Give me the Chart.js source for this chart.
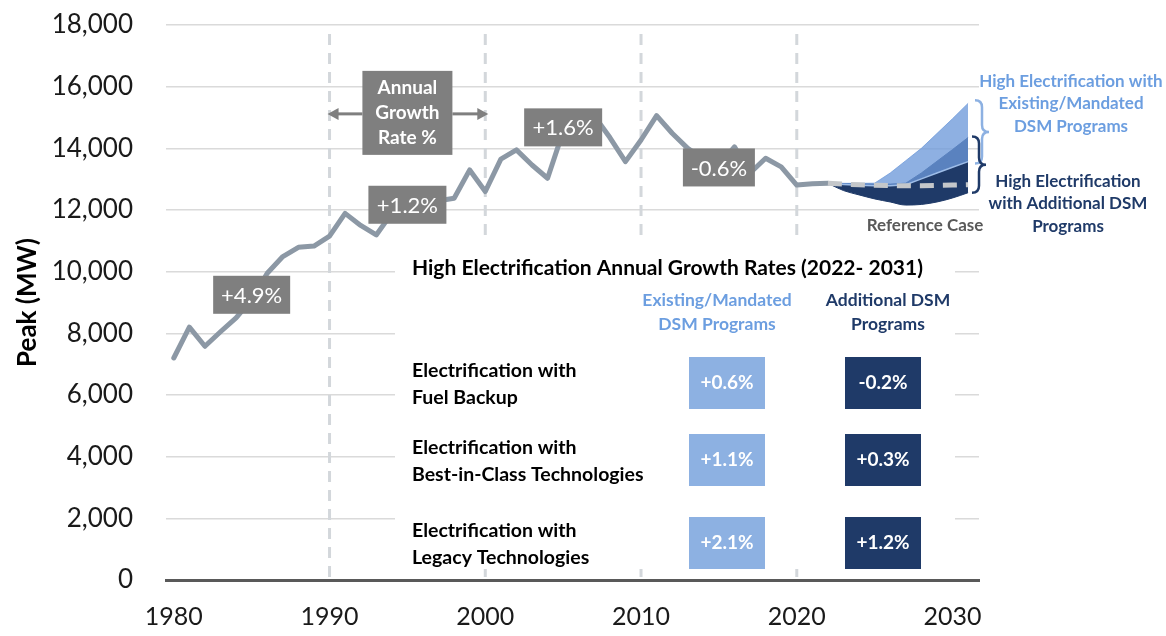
<!DOCTYPE html>
<html>
<head>
<meta charset="utf-8">
<script src="https://cdn.jsdelivr.net/npm/chart.js@4.4.1/dist/chart.umd.min.js"></script>
<style>
    body { margin: 0; background: #fff; }
    #wrap { width: 1166px; height: 636px; }
</style>
</head>
<body>
<div id="wrap"><canvas id="chart1" width="1166" height="636"></canvas></div>
<script>
// historical peak load
const years = [1980, 1981, 1982, 1983, 1984, 1985, 1986, 1987, 1988, 1989,
    1990, 1991, 1992, 1993, 1994, 1995, 1996, 1997, 1998, 1999,
    2000, 2001, 2002, 2003, 2004, 2005, 2006, 2007, 2008, 2009,
    2010, 2011, 2012, 2013, 2014, 2015, 2016, 2017, 2018, 2019,
    2020, 2021, 2022];
const peakMW = [7200, 8200, 7580, 8050, 8500, 9100, 9950, 10490, 10790, 10830,
    11150, 11890, 11500, 11190, 11900, 12000, 12250, 12300, 12380, 13300,
    12600, 13650, 13950, 13460, 13030, 14550, 14700, 15050, 14350, 13570,
    14270, 15060, 14490, 14000, 13650, 13450, 14050, 13200, 13680, 13400,
    12810, 12850, 12865];

// forecast 2022-2031
const fcYears = [2022, 2023, 2024, 2025, 2026, 2027, 2028, 2029, 2030, 2031];
const refCase = [12865, 12840, 12820, 12800, 12790, 12790, 12790, 12800, 12810, 12820];
const existLow = [12865, 12830, 12800, 12790, 12790, 12820, 13010, 13200, 13385, 13570];
const existHigh = [12865, 12865, 12865, 12870, 13200, 13600, 14000, 14480, 14960, 15460];
const addLow = [12865, 12630, 12490, 12360, 12260, 12160, 12180, 12260, 12390, 12560];
const addHigh = [12865, 12860, 12850, 12840, 12840, 12870, 13200, 13580, 13960, 14350];

const xTicks = [1980, 1990, 2000, 2010, 2020, 2030];
const decadeLines = [1990, 2000, 2010, 2020];

// growth rate call-outs (centre year, centre MW)
const growthLabels = [
    { text: '+4.9%', year: 1985, mw: 9250, w: 77 },
    { text: '+1.2%', year: 1995, mw: 12170, w: 78 },
    { text: '+1.6%', year: 2005, mw: 14680, w: 78 },
    { text: '-0.6%', year: 2015, mw: 13380, w: 72 }
];

// inset table
const tableTitle = 'High Electrification Annual Growth Rates (2022- 2031)';
const colHeads = [['Existing/Mandated', 'DSM Programs'], ['Additional DSM', 'Programs']];
const rowLabels = [
    ['Electrification with', 'Fuel Backup'],
    ['Electrification with', 'Best-in-Class Technologies'],
    ['Electrification with', 'Legacy Technologies']
];
const existRates = ['+0.6%', '+1.1%', '+2.1%'];
const addRates = ['-0.2%', '+0.3%', '+1.2%'];

const LIGHT = '#8DB1E2';
const LIGHT_TXT = '#6C9EE0';
const NAVY = '#1F3A68';
const BOXGRAY = '#7F7F7F';

function pts(xs, ys) {
    return xs.map(function (v, i) { return { x: v, y: ys[i] }; });
}

function txt(ctx, s, x, y, font, color, align) {
    ctx.font = font;
    ctx.fillStyle = color;
    ctx.textAlign = align || 'center';
    ctx.textBaseline = 'middle';
    ctx.fillText(s, x, y);
}

function arrow(ctx, x0, x1, y) {
    const dir = x1 > x0 ? 1 : -1;
    ctx.strokeStyle = BOXGRAY;
    ctx.fillStyle = BOXGRAY;
    ctx.lineWidth = 3;
    ctx.beginPath();
    ctx.moveTo(x0, y);
    ctx.lineTo(x1 - dir * 8, y);
    ctx.stroke();
    ctx.beginPath();
    ctx.moveTo(x1, y);
    ctx.lineTo(x1 - dir * 11, y - 6);
    ctx.lineTo(x1 - dir * 11, y + 6);
    ctx.closePath();
    ctx.fill();
}

function brace(ctx, x, top, bot, color) {
    const w = 14, r = 7, mid = (top + bot) / 2;
    ctx.strokeStyle = color;
    ctx.lineWidth = 2.5;
    ctx.beginPath();
    ctx.moveTo(x, top);
    ctx.quadraticCurveTo(x + w / 2, top, x + w / 2, top + r);
    ctx.lineTo(x + w / 2, mid - r);
    ctx.quadraticCurveTo(x + w / 2, mid, x + w, mid);
    ctx.quadraticCurveTo(x + w / 2, mid, x + w / 2, mid + r);
    ctx.lineTo(x + w / 2, bot - r);
    ctx.quadraticCurveTo(x + w / 2, bot, x, bot);
    ctx.stroke();
}

const annot = {
    id: 'annot',
    beforeDatasetsDraw: function (chart) {
        const ctx = chart.ctx, x = chart.scales.x, area = chart.chartArea;
        ctx.save();
        ctx.strokeStyle = '#D3D7DB';
        ctx.lineWidth = 3;
        ctx.setLineDash([11, 8]);
        decadeLines.forEach(function (yr) {
            const px = x.getPixelForValue(yr);
            ctx.beginPath();
            ctx.moveTo(px, area.top + 9);
            ctx.lineTo(px, area.bottom);
            ctx.stroke();
        });
        ctx.setLineDash([]);

        // inset table
        ctx.fillStyle = '#fff';
        ctx.fillRect(395, 243, 560, 326);
        txt(ctx, tableTitle, 412, 268, 'bold 21px Lato', '#000', 'left');
        txt(ctx, colHeads[0][0], 717, 300, 'bold 17.5px Lato', LIGHT_TXT);
        txt(ctx, colHeads[0][1], 717, 324, 'bold 17.5px Lato', LIGHT_TXT);
        txt(ctx, colHeads[1][0], 888, 300, 'bold 17.5px Lato', NAVY);
        txt(ctx, colHeads[1][1], 888, 324, 'bold 17.5px Lato', NAVY);
        const rowTop = [357, 434, 517];
        rowLabels.forEach(function (lab, i) {
            const cy = rowTop[i] + 26;
            txt(ctx, lab[0], 412, cy - 12, 'bold 19.5px Lato', '#000', 'left');
            txt(ctx, lab[1], 412, cy + 15, 'bold 19.5px Lato', '#000', 'left');
            ctx.fillStyle = LIGHT;
            ctx.fillRect(689, rowTop[i], 76, 52);
            ctx.fillStyle = NAVY;
            ctx.fillRect(845, rowTop[i], 76, 52);
            txt(ctx, existRates[i], 727, cy, 'bold 19px Lato', '#fff');
            txt(ctx, addRates[i], 883, cy, 'bold 19px Lato', '#fff');
        });
        ctx.restore();
    },
    afterDatasetsDraw: function (chart) {
        const ctx = chart.ctx, x = chart.scales.x, y = chart.scales.y;
        ctx.save();
        growthLabels.forEach(function (g) {
            const cx = x.getPixelForValue(g.year), cy = y.getPixelForValue(g.mw);
            ctx.fillStyle = BOXGRAY;
            ctx.fillRect(cx - g.w / 2, cy - 19, g.w, 38);
            txt(ctx, g.text, cx, cy + 1, '22px Lato', '#fff');
        });

        // annual growth rate box + arrows
        const bx = x.getPixelForValue(1995), by = y.getPixelForValue(15150);
        ctx.fillStyle = BOXGRAY;
        ctx.fillRect(bx - 45, by - 42, 90, 84);
        txt(ctx, 'Annual', bx, by - 25, 'bold 19px Lato', '#fff');
        txt(ctx, 'Growth', bx, by, 'bold 19px Lato', '#fff');
        txt(ctx, 'Rate %', bx, by + 25, 'bold 19px Lato', '#fff');
        arrow(ctx, bx - 45, x.getPixelForValue(1990) - 2, by + 1);
        arrow(ctx, bx + 45, x.getPixelForValue(2000) + 3, by + 1);

        // braces tied to the 2031 ranges
        const last = fcYears.length - 1;
        brace(ctx, 975, y.getPixelForValue(existHigh[last]) - 3, y.getPixelForValue(existLow[last]) + 2, '#8DB1E2');
        brace(ctx, 972, y.getPixelForValue(addHigh[last]) - 1, y.getPixelForValue(addLow[last]), NAVY);

        txt(ctx, 'High Electrification with', 1071, 82, 'bold 17px Lato', LIGHT_TXT);
        txt(ctx, 'Existing/Mandated', 1071, 104, 'bold 17px Lato', LIGHT_TXT);
        txt(ctx, 'DSM Programs', 1071, 127, 'bold 17px Lato', LIGHT_TXT);
        txt(ctx, 'High Electrification', 1068, 182, 'bold 17px Lato', NAVY);
        txt(ctx, 'with Additional DSM', 1068, 204, 'bold 17px Lato', NAVY);
        txt(ctx, 'Programs', 1068, 227, 'bold 17px Lato', NAVY);
        txt(ctx, 'Reference Case', 925, 226, 'bold 17px Lato', '#595959');
        ctx.restore();
    }
};

Chart.defaults.font.family = 'Lato';
Chart.defaults.color = '#1a1a1a';

new Chart(document.getElementById('chart1'), {
    type: 'line',
    data: {
        datasets: [{
            label: 'Reference Case',
            data: pts(fcYears, refCase),
            borderColor: '#C4C7CA',
            borderWidth: 5,
            borderDash: [14, 9],
            pointRadius: 0,
            fill: false
        }, {
            label: 'Peak',
            data: pts(years, peakMW),
            borderColor: '#8C98A5',
            borderWidth: 5,
            borderJoinStyle: 'round',
            borderCapStyle: 'round',
            pointRadius: 0,
            fill: false
        }, {
            label: 'Existing low',
            data: pts(fcYears, existLow),
            borderColor: '#9EBDE8',
            borderWidth: 1.5,
            pointRadius: 0,
            fill: false
        }, {
            label: 'Existing high',
            data: pts(fcYears, existHigh),
            borderColor: 'rgba(108,152,217,0.77)',
            backgroundColor: 'rgba(108,152,217,0.77)',
            borderWidth: 1,
            pointRadius: 0,
            fill: '-1'
        }, {
            label: 'Additional low',
            data: pts(fcYears, addLow),
            borderColor: NAVY,
            borderWidth: 1,
            cubicInterpolationMode: 'monotone',
            pointRadius: 0,
            fill: false
        }, {
            label: 'Additional high',
            data: pts(fcYears, addHigh),
            borderColor: NAVY,
            backgroundColor: NAVY,
            borderWidth: 1,
            pointRadius: 0,
            fill: '-1'
        }]
    },
    options: {
        responsive: false,
        animation: false,
        layout: { padding: { top: 25, right: 187, bottom: 0, left: 0 } },
        plugins: {
            legend: { display: false },
            tooltip: { enabled: false }
        },
        scales: {
            x: {
                type: 'linear',
                min: 1979.5,
                max: 2031.7,
                afterBuildTicks: function (scale) {
                    scale.ticks = xTicks.map(function (v) { return { value: v }; });
                },
                afterFit: function (scale) {
                    scale.height = 56;
                    scale.paddingLeft = 0;
                    scale.paddingRight = 0;
                },
                ticks: {
                    padding: 22,
                    maxRotation: 0,
                    font: { size: 25 },
                    callback: function (v) { return String(v); }
                },
                grid: { display: false, drawTicks: false },
                border: { display: true, color: '#595959', width: 3 }
            },
            y: {
                min: 0,
                max: 18000,
                afterFit: function (scale) {
                    scale.width = 166;
                    scale.paddingTop = 0;
                    scale.paddingBottom = 0;
                },
                ticks: {
                    stepSize: 2000,
                    padding: 33,
                    font: { size: 26 },
                    callback: function (v) { return v.toLocaleString('en-US'); }
                },
                grid: { color: '#DADADA', lineWidth: 1.5, drawTicks: false },
                border: { display: false },
                title: {
                    display: true,
                    text: 'Peak (MW)',
                    color: '#000',
                    font: { size: 26, weight: 'bold' },
                    padding: { top: 12, bottom: 0 }
                }
            }
        }
    },
    plugins: [annot]
});
</script>
</body>
</html>
